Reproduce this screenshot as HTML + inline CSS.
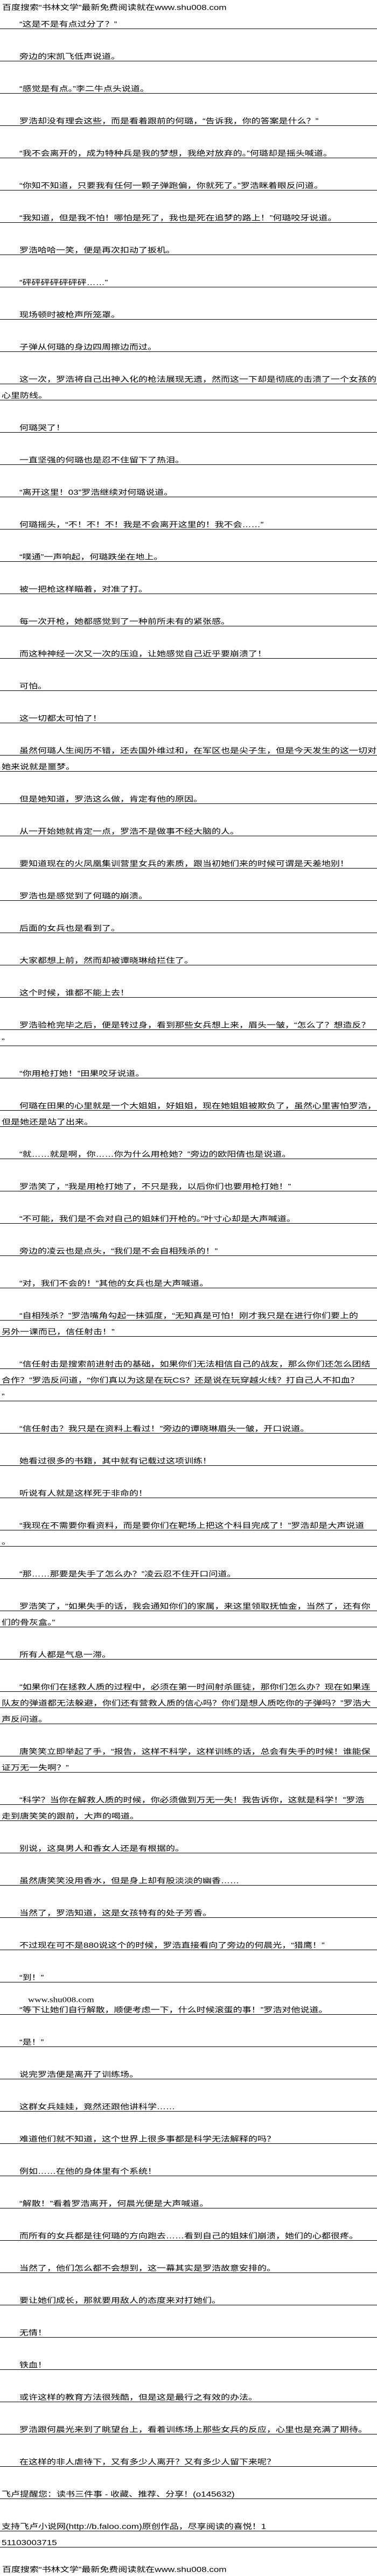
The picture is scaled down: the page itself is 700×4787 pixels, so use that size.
<!DOCTYPE html>
<html><head><meta charset="utf-8">
<style>
html,body{margin:0;padding:0;background:#fff;}
body{width:700px;height:4787px;position:relative;overflow:hidden;font-family:"Liberation Sans","Noto Sans CJK SC",sans-serif;color:#000;}
.t{position:absolute;left:0;width:700px;height:16px;border-bottom:1px solid #000;}
.t span,.n span{position:absolute;bottom:1px;white-space:nowrap;font-size:17px;line-height:17px;transform:scaleY(.8);transform-origin:0 100%;}
.t span{left:36px}
.t.c span{left:3px}
.n{position:absolute;left:0;width:700px;height:16px;}
.n span{left:4px}
</style></head><body>
<div class="n" style="top:6px"><span>百度搜索“书林文学”最新免费阅读就在www.shu008.com</span></div>
<div class="t" style="top:37px"><span>“这是不是有点过分了？”</span></div>
<div class="t" style="top:97px"><span>旁边的宋凯飞低声说道。</span></div>
<div class="t" style="top:157px"><span>“感觉是有点。”李二牛点头说道。</span></div>
<div class="t" style="top:217px"><span>罗浩却没有理会这些，而是看着跟前的何璐，“告诉我，你的答案是什么？”</span></div>
<div class="t" style="top:277px"><span>“我不会离开的，成为特种兵是我的梦想，我绝对放弃的。”何璐却是摇头喊道。</span></div>
<div class="t" style="top:337px"><span>“你知不知道，只要我有任何一颗子弹跑偏，你就死了。”罗浩眯着眼反问道。</span></div>
<div class="t" style="top:397px"><span>“我知道，但是我不怕！哪怕是死了，我也是死在追梦的路上！”何璐咬牙说道。</span></div>
<div class="t" style="top:457px"><span>罗浩哈哈一笑，便是再次扣动了扳机。</span></div>
<div class="t" style="top:517px"><span>“砰砰砰砰砰砰砰……”</span></div>
<div class="t" style="top:577px"><span>现场顿时被枪声所笼罩。</span></div>
<div class="t" style="top:637px"><span>子弹从何璐的身边四周擦边而过。</span></div>
<div class="t" style="top:697px"><span>这一次，罗浩将自己出神入化的枪法展现无遗，然而这一下却是彻底的击溃了一个女孩的</span></div>
<div class="t c" style="top:727px"><span>心里防线。</span></div>
<div class="t" style="top:787px"><span>何璐哭了！</span></div>
<div class="t" style="top:847px"><span>一直坚强的何璐也是忍不住留下了热泪。</span></div>
<div class="t" style="top:907px"><span>“离开这里！03”罗浩继续对何璐说道。</span></div>
<div class="t" style="top:967px"><span>何璐摇头，“不！不！不！我是不会离开这里的！我不会……”</span></div>
<div class="t" style="top:1027px"><span>“噗通”一声响起，何璐跌坐在地上。</span></div>
<div class="t" style="top:1087px"><span>被一把枪这样瞄着，对准了打。</span></div>
<div class="t" style="top:1147px"><span>每一次开枪，她都感觉到了一种前所未有的紧张感。</span></div>
<div class="t" style="top:1207px"><span>而这种神经一次又一次的压迫，让她感觉自己近乎要崩溃了！</span></div>
<div class="t" style="top:1267px"><span>可怕。</span></div>
<div class="t" style="top:1327px"><span>这一切都太可怕了！</span></div>
<div class="t" style="top:1387px"><span>虽然何璐人生阅历不错，还去国外维过和，在军区也是尖子生，但是今天发生的这一切对</span></div>
<div class="t c" style="top:1417px"><span>她来说就是噩梦。</span></div>
<div class="t" style="top:1477px"><span>但是她知道，罗浩这么做，肯定有他的原因。</span></div>
<div class="t" style="top:1537px"><span>从一开始她就肯定一点，罗浩不是做事不经大脑的人。</span></div>
<div class="t" style="top:1597px"><span>要知道现在的火凤凰集训营里女兵的素质，跟当初她们来的时候可谓是天差地别！</span></div>
<div class="t" style="top:1657px"><span>罗浩也是感觉到了何璐的崩溃。</span></div>
<div class="t" style="top:1717px"><span>后面的女兵也是看到了。</span></div>
<div class="t" style="top:1777px"><span>大家都想上前，然而却被谭晓琳给拦住了。</span></div>
<div class="t" style="top:1837px"><span>这个时候，谁都不能上去！</span></div>
<div class="t" style="top:1897px"><span>罗浩验枪完毕之后，便是转过身，看到那些女兵想上来，眉头一皱，“怎么了？想造反？</span></div>
<div class="t c" style="top:1927px"><span>”</span></div>
<div class="t" style="top:1987px"><span>“你用枪打她！”田果咬牙说道。</span></div>
<div class="t" style="top:2047px"><span>何璐在田果的心里就是一个大姐姐，好姐姐，现在她姐姐被欺负了，虽然心里害怕罗浩，</span></div>
<div class="t c" style="top:2077px"><span>但是她还是站了出来。</span></div>
<div class="t" style="top:2137px"><span>“就……就是啊，你……你为什么用枪她？”旁边的欧阳倩也是说道。</span></div>
<div class="t" style="top:2197px"><span>罗浩笑了，“我是用枪打她了，不只是我，以后你们也要用枪打她！”</span></div>
<div class="t" style="top:2257px"><span>“不可能，我们是不会对自己的姐妹们开枪的。”叶寸心却是大声喊道。</span></div>
<div class="t" style="top:2317px"><span>旁边的凌云也是点头，“我们是不会自相残杀的！”</span></div>
<div class="t" style="top:2377px"><span>“对，我们不会的！”其他的女兵也是大声喊道。</span></div>
<div class="t" style="top:2437px"><span>“自相残杀？”罗浩嘴角勾起一抹弧度，“无知真是可怕！刚才我只是在进行你们要上的</span></div>
<div class="t c" style="top:2467px"><span>另外一课而已，信任射击！”</span></div>
<div class="t" style="top:2527px"><span>“信任射击是搜索前进射击的基础，如果你们无法相信自己的战友，那么你们还怎么团结</span></div>
<div class="t c" style="top:2557px"><span>合作？”罗浩反问道，“你们真以为这是在玩CS？还是说在玩穿越火线？打自己人不扣血？</span></div>
<div class="t c" style="top:2587px"><span>”</span></div>
<div class="t" style="top:2647px"><span>“信任射击？我只是在资料上看过！”旁边的谭晓琳眉头一皱，开口说道。</span></div>
<div class="t" style="top:2707px"><span>她看过很多的书籍，其中就有记载过这项训练！</span></div>
<div class="t" style="top:2767px"><span>听说有人就是这样死于非命的！</span></div>
<div class="t" style="top:2827px"><span>“我现在不需要你看资料，而是要你们在靶场上把这个科目完成了！”罗浩却是大声说道</span></div>
<div class="t c" style="top:2857px"><span>。</span></div>
<div class="t" style="top:2917px"><span>“那……那要是失手了怎么办？”凌云忍不住开口问道。</span></div>
<div class="t" style="top:2977px"><span>罗浩笑了，“如果失手的话，我会通知你们的家属，来这里领取抚恤金，当然了，还有你</span></div>
<div class="t c" style="top:3007px"><span>们的骨灰盒。”</span></div>
<div class="t" style="top:3067px"><span>所有人都是气息一滞。</span></div>
<div class="t" style="top:3127px"><span>“如果你们在拯救人质的过程中，必须在第一时间射杀匪徒，那你们怎么办？现在如果连</span></div>
<div class="t c" style="top:3157px"><span>队友的弹道都无法躲避，你们还有营救人质的信心吗？你们是想人质吃你的子弹吗？”罗浩大</span></div>
<div class="t c" style="top:3187px"><span>声反问道。</span></div>
<div class="t" style="top:3247px"><span>唐笑笑立即举起了手，“报告，这样不科学，这样训练的话，总会有失手的时候！谁能保</span></div>
<div class="t c" style="top:3277px"><span>证万无一失啊？”</span></div>
<div class="t" style="top:3337px"><span>“科学？当你在解救人质的时候，你必须做到万无一失！我告诉你，这就是科学！”罗浩</span></div>
<div class="t c" style="top:3367px"><span>走到唐笑笑的跟前，大声的喝道。</span></div>
<div class="t" style="top:3427px"><span>别说，这臭男人和香女人还是有根据的。</span></div>
<div class="t" style="top:3487px"><span>虽然唐笑笑没用香水，但是身上却有股淡淡的幽香……</span></div>
<div class="t" style="top:3547px"><span>当然了，罗浩知道，这是女孩特有的处子芳香。</span></div>
<div class="t" style="top:3607px"><span>不过现在可不是880说这个的时候，罗浩直接看向了旁边的何晨光，“猎鹰！”</span></div>
<div class="t" style="top:3667px"><span>“到！”</span></div>
<div class="n" style="top:3708px"><span style="left:52px;font-family:'Liberation Serif',serif;">www.shu008.com</span></div>
<div class="t" style="top:3727px"><span>“等下让她们自行解散，顺便考虑一下，什么时候滚蛋的事！”罗浩对他说道。</span></div>
<div class="t" style="top:3787px"><span>“是！”</span></div>
<div class="t" style="top:3847px"><span>说完罗浩便是离开了训练场。</span></div>
<div class="t" style="top:3907px"><span>这群女兵娃娃，竟然还跟他讲科学……</span></div>
<div class="t" style="top:3967px"><span>难道他们就不知道，这个世界上很多事都是科学无法解释的吗？</span></div>
<div class="t" style="top:4027px"><span>例如……在他的身体里有个系统！</span></div>
<div class="t" style="top:4087px"><span>“解散！”看着罗浩离开，何晨光便是大声喊道。</span></div>
<div class="t" style="top:4147px"><span>而所有的女兵都是往何璐的方向跑去……看到自己的姐妹们崩溃，她们的心都很疼。</span></div>
<div class="t" style="top:4207px"><span>当然了，他们怎么都不会想到，这一幕其实是罗浩故意安排的。</span></div>
<div class="t" style="top:4267px"><span>要让她们成长，那就要用敌人的态度来对打她们。</span></div>
<div class="t" style="top:4327px"><span>无情！</span></div>
<div class="t" style="top:4387px"><span>铁血！</span></div>
<div class="t" style="top:4447px"><span>或许这样的教育方法很残酷，但是这是最行之有效的办法。</span></div>
<div class="t" style="top:4507px"><span>罗浩跟何晨光来到了眺望台上，看着训练场上那些女兵的反应，心里也是充满了期待。</span></div>
<div class="t" style="top:4567px"><span>在这样的非人虐待下，又有多少人离开？又有多少人留下来呢？</span></div>
<div class="t c" style="top:4627px"><span>飞卢提醒您：读书三件事 - 收藏、推荐、分享！(o145632)</span></div>
<div class="t c" style="top:4687px"><span>支持飞卢小说网(http://b.faloo.com)原创作品，尽享阅读的喜悦！1</span></div>
<div class="t c" style="top:4717px"><span>51103003715</span></div>
<div class="n" style="top:4767px"><span>百度搜索“书林文学”最新免费阅读就在www.shu008.com</span></div>
</body></html>
